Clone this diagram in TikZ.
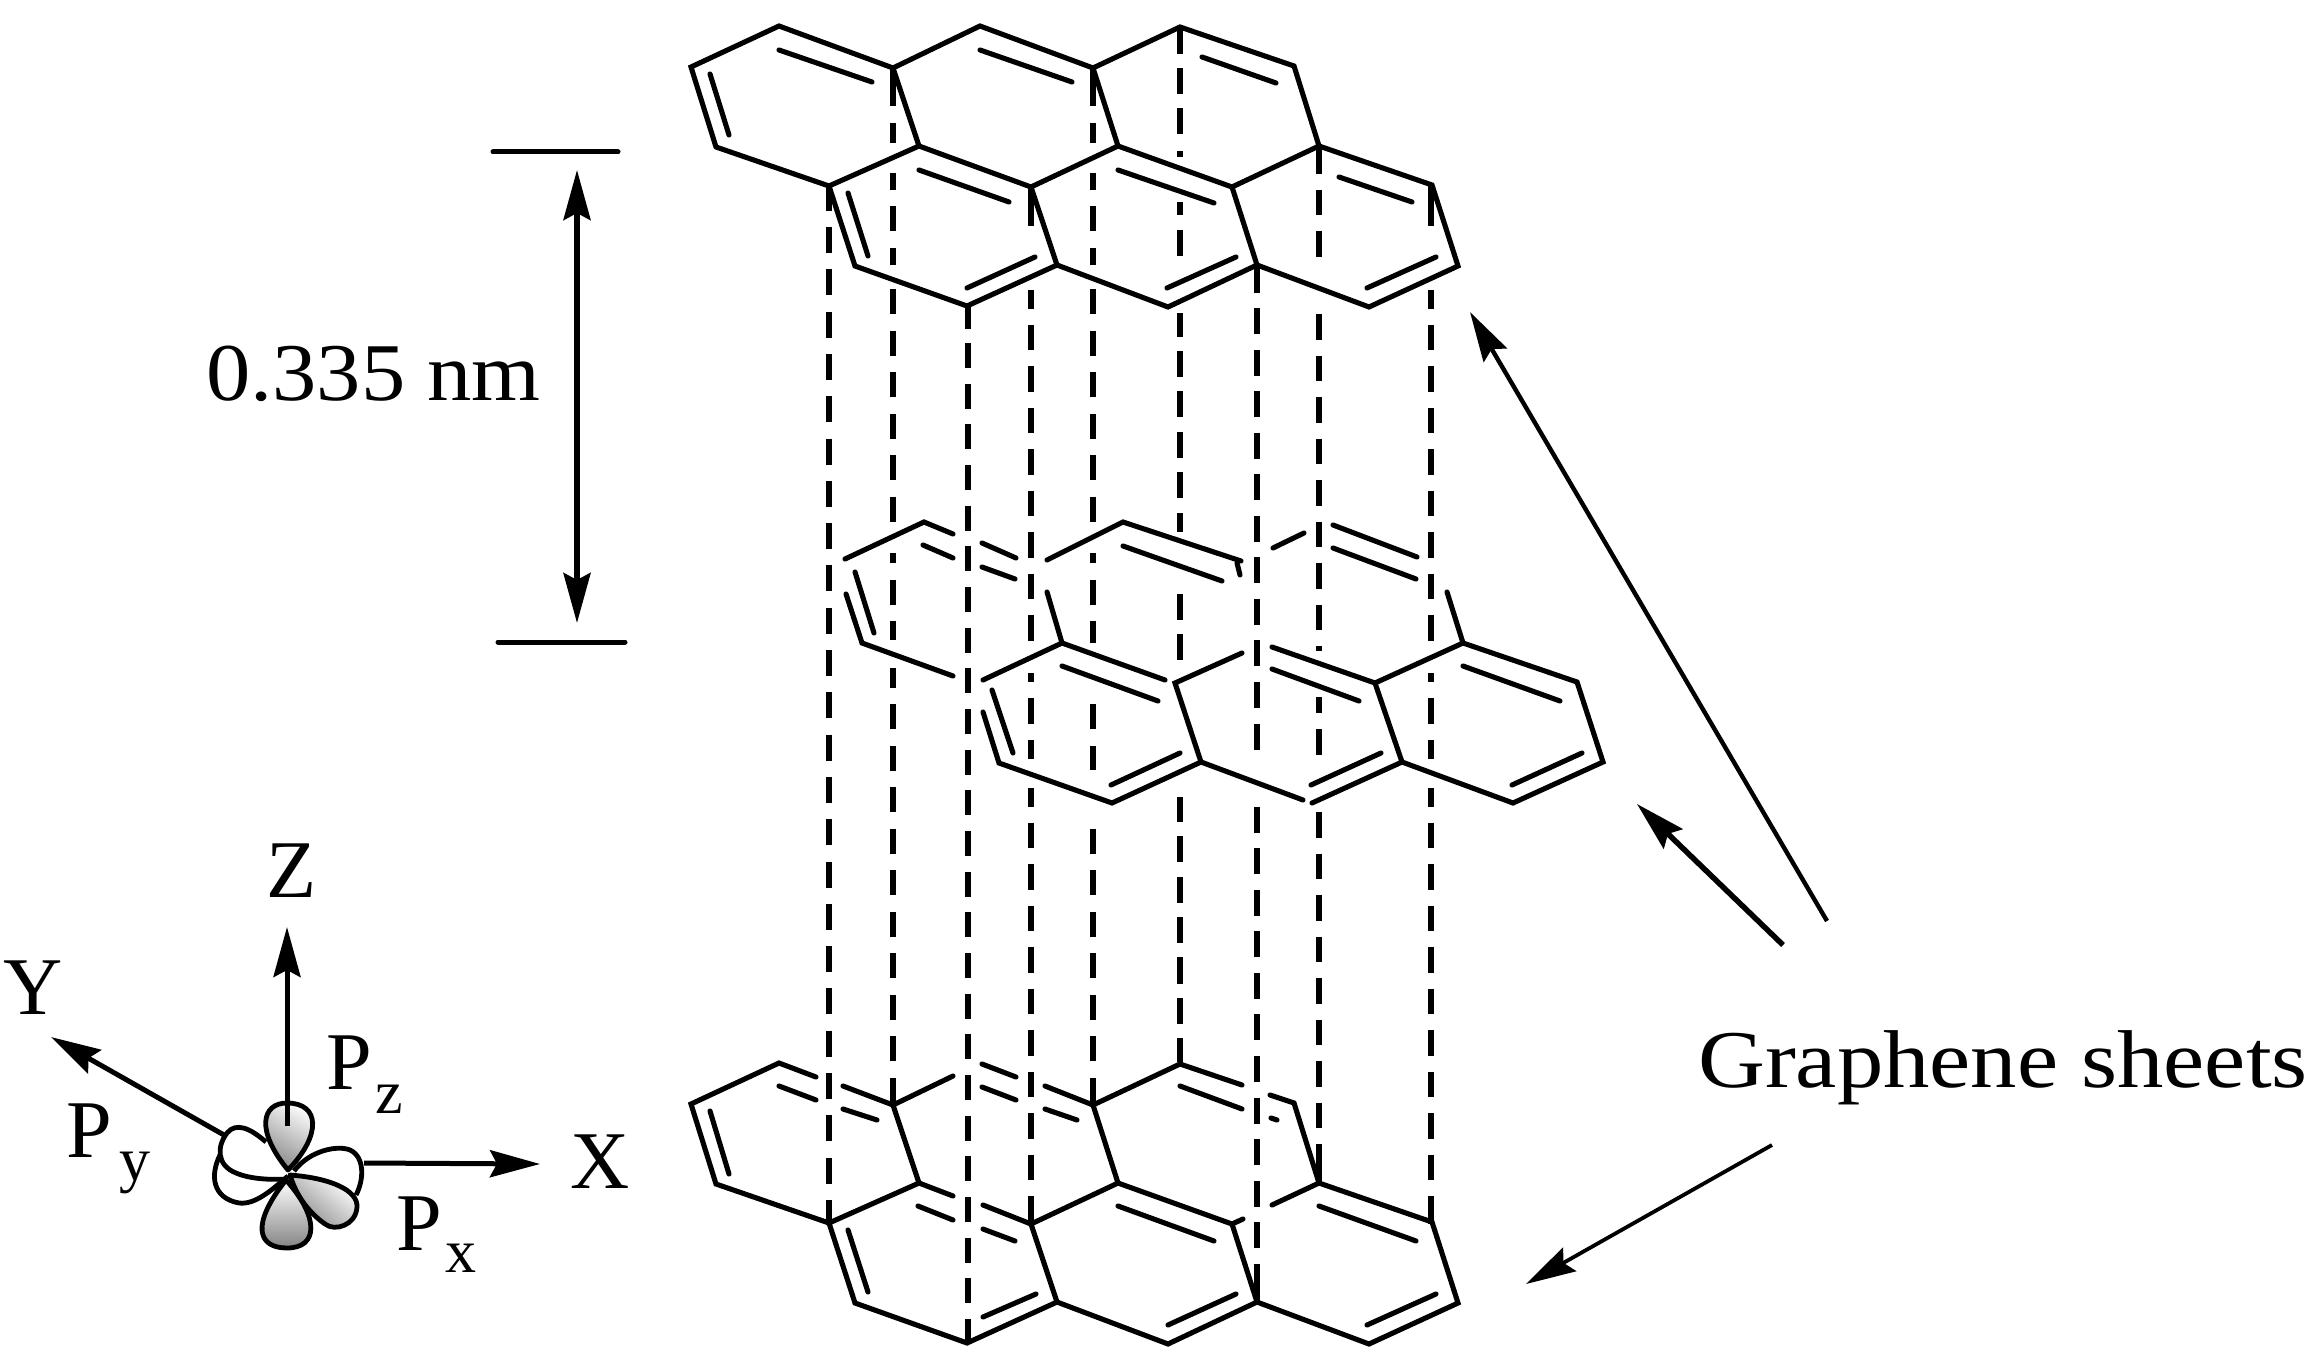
\documentclass[tikz,border=0pt]{standalone}
\usepackage{fontspec}
\setmainfont{Liberation Serif}
\newfontfamily\widefont[FakeStretch=1.13]{Liberation Serif}
\newfontfamily\numfont[FakeStretch=1.08]{Liberation Serif}
\usetikzlibrary{arrows.meta}
\tikzset{
    bond/.style={line width=5.1pt,line cap=round,line join=miter},
    dashcol/.style={line width=5.6pt},
    arrowline/.style={line width=#1,-{Stealth[length=50pt,width=27pt,inset=7pt]}},
    barline/.style={line width=5pt,line cap=round},
    biglabel/.style={font=\fontsize{82}{90}\selectfont,inner sep=0pt,anchor=base west},
    sublabel/.style={font=\fontsize{62}{68}\selectfont,inner sep=0pt,anchor=base west},
    lobe/.style={line width=4.8pt,line join=round},
    shadedlobe/.style={lobe,top color=white,middle color=white,bottom color=black!48},
}
\begin{document}
\begin{tikzpicture}[x=1pt,y=-1pt]
    \useasboundingbox (0,0) rectangle (2317,1372);
    % vertices of the outer sheets
    \foreach \n/\x/\y in {a1/691/67,a2/779/26,a3/893/68,a4/980/26,a5/1093/68,a6/1180/27,a7/1294/66,a8/716/147,
                          b1/829/186,b2/919/146,b3/1031/187,b4/1118/146,b5/1232/187,b6/1319/146,b7/1432/185,
                          c1/855/266,c2/967/306,c3/1057/265,c4/1168/307,c5/1257/265,c6/1369/307,c7/1458/266}{
        \coordinate (t\n) at (\x,\y);
        \coordinate (u\n) at (\x,\y+1037);
    }
    % vertical dashed lines
    \foreach \x/\ya/\yb/\don/\doff in {829/184.7/1224/26/16.3,893/81.5/1105/25/16.52,968/343/1344/25/15.67,
                                       1031/283.5/1224/25.5/15.98,1093/81.5/1105/25/16.52,1180/27.6/1062/26/14.43,
                                       1257/266.5/1264/26/15.55,1319/148.5/1182/25.5/15.98,1431/283.5/1224/25.5/15.98}{
        \draw[dashcol,dash pattern=on \don pt off \doff pt] (\x,\ya) -- (\x,\yb);
    }
    \foreach \x/\ya/\yb in {893/143/173,893/265/285,893/530/553,893/640/668,
                            1031/226/290,1031/641/673,1031/759/788,
                            1093/143/173,1093/265/285,1093/530/553,1093/643/700,1093/770/825,
                            1180/136/151,1180/157/202,1180/257/313,1180/532/594,1180/661/797,
                            1257/751/800,
                            1319/257/313,1319/651/697,1319/755/812,
                            1431/226/290,1431/641/673,1431/759/788}{
        \fill[white] (\x-6,\ya) rectangle (\x+6,\yb);
    }
    \foreach \x/\ya/\yb in {893/68/106,968/306/329,1031/187/226,1031/1196/1224,1093/68/106,1180/1038/1062,
                            1257/1264/1303,1319/146/174,1319/1144/1182,1431/185/226,1431/1196/1224}{
        \draw[dashcol] (\x,\ya) -- (\x,\yb);
    }
    % top sheet
    \draw[bond] (ta8) -- (ta1) -- (ta2) -- (ta3) -- (ta4) -- (ta5) -- (ta6) -- (ta7) -- (tb6) -- (tb7)
        -- (tc7) -- (tc6) -- (tc5) -- (tc4) -- (tc3) -- (tc2) -- (tc1) -- (tb1) -- (ta8);
    \draw[bond] (ta3) -- (tb2) -- (tb1);
    \draw[bond] (tb2) -- (tb3) -- (tb4) -- (tb5) -- (tb6);
    \draw[bond] (ta5) -- (tb4);
    \draw[bond] (tb3) -- (tc3);
    \draw[bond] (tb5) -- (tc5);
    \foreach \xa/\ya/\xb/\yb in {779/50/872/82,710/74/729/135,980/50/1072/82,1202/57/1276/83,919/170/1009/202,
                                 1118/170/1214/203,1339/177/1412/202,848/193/868/256,967/288/1035/257,
                                 1167/288/1236/257,1367/288/1436/257}{
        \draw[bond] (\xa,\ya) -- (\xb,\yb);
    }
    % middle sheet
    \draw[bond] (845,559) -- (924,522) -- (953,534);
    \draw[bond] (923,545) -- (953,558);
    \draw[bond] (982,543) -- (1016,558);
    \draw[bond] (982,567) -- (1015,579);
    \draw[bond] (1047,560) -- (1123,522) -- (1241,561);
    \draw[bond] (1237,563) -- (1240,575);
    \draw[bond] (1123,546) -- (1222,581);
    \draw[bond] (846,594) -- (862,643) -- (953,676);
    \draw[bond] (855,572) -- (874,633);
    \draw[bond] (1047,592) -- (1062,643);
    \draw[bond] (983,680) -- (1062,643) -- (1165,680);
    \draw[bond] (1062,666) -- (1158,701);
    \draw[bond] (1242,653) -- (1175,683) -- (1201,762);
    \draw[bond] (983,712) -- (999,763) -- (1112,803) -- (1201,762) -- (1303,800);
    \draw[bond] (992,690) -- (1013,753);
    \draw[bond] (1111,785) -- (1180,753);
    \draw[bond] (1273,548) -- (1304,533);
    \draw[bond] (1333,525) -- (1417,557);
    \draw[bond] (1333,548) -- (1416,579);
    \draw[bond] (1447,592) -- (1463,643);
    \draw[bond] (1272,647) -- (1375,683) -- (1463,643) -- (1577,682) -- (1603,762) -- (1513,803) -- (1402,762) -- (1312,803);
    \draw[bond] (1272,669) -- (1359,701);
    \draw[bond] (1375,683) -- (1402,762);
    \draw[bond] (1463,666) -- (1560,701);
    \draw[bond] (1512,785) -- (1582,753);
    \draw[bond] (1311,785) -- (1381,753);
    % bottom sheet
    \draw[bond] (816,1077) -- (ua2) -- (ua1) -- (ua8) -- (ub1) -- (ub2) -- (953,1196);
    \draw[bond] (779,1086) -- (816,1100);
    \draw[bond] (843,1086) -- (ua3) -- (953,1076);
    \draw[bond] (843,1109) -- (877,1120);
    \draw[bond] (710,1111) -- (729,1174);
    \draw[bond] (ua3) -- (ub2);
    \draw[bond] (982,1064) -- (1016,1077);
    \draw[bond] (982,1087) -- (1016,1100);
    \draw[bond] (1045,1086) -- (ua5) -- (ua6) -- (1242,1085);
    \draw[bond] (1045,1109) -- (1077,1120);
    \draw[bond] (ua5) -- (ub4);
    \draw[bond] (1180,1086) -- (1242,1109);
    \draw[bond] (1270,1095) -- (ua7) -- (ub6);
    \draw[bond] (1271,1118) -- (1277,1120);
    \draw[bond] (918,1206) -- (953,1220);
    \draw[bond] (983,1205) -- (ub3) -- (ub4) -- (ub5) -- (1243,1219);
    \draw[bond] (983,1229) -- (1015,1241);
    \draw[bond] (1118,1206) -- (1214,1241);
    \draw[bond] (ub5) -- (uc5);
    \draw[bond] (1272,1205) -- (ub6) -- (ub7) -- (uc7) -- (uc6) -- (uc5) -- (uc4) -- (uc3) -- (uc2) -- (uc1) -- (ub1);
    \draw[bond] (ub3) -- (uc3);
    \draw[bond] (1319,1206) -- (1416,1241);
    \draw[bond] (848,1230) -- (868,1292);
    \draw[bond] (983,1317) -- (1036,1294);
    \draw[bond] (1168,1325) -- (1236,1294);
    \draw[bond] (1367,1325) -- (1436,1294);
    % spacing mark
    \coordinate (spaceUp) at (577,170);
    \coordinate (spaceDown) at (577,623);
    \draw[barline] (493,152) -- (618,152);
    \draw[barline] (498,642) -- (625,642);
    \draw[line width=5.5pt,{Stealth[length=50pt,width=27pt,inset=7pt]}-{Stealth[length=50pt,width=27pt,inset=7pt]}] (spaceUp) -- (spaceDown);
    \node[biglabel] (spaceText) at (206,400) {\numfont 0.335 nm};
    % sheet arrows
    \node[biglabel] (sheetText) at (1698,1087) {\widefont Graphene sheets};
    \coordinate (tailTop) at (1827,921);
    \coordinate (headTop) at (1470,312);
    \coordinate (tailMid) at (1783,945);
    \coordinate (headMid) at (1637,804);
    \coordinate (tailLow) at (1772,1145);
    \coordinate (headLow) at (1526,1284);
    \draw[arrowline=4.4pt] (tailTop) -- (headTop);
    \draw[arrowline=5.5pt] (tailMid) -- (headMid);
    \draw[arrowline=3.8pt] (tailLow) -- (headLow);
    % orbitals
    \draw[lobe] (266,1142) .. controls (250,1128) and (236,1122) .. (227,1133)
        .. controls (217,1146) and (216,1165) .. (236,1173)
        .. controls (250,1179) and (270,1180) .. (287,1179);
    \draw[lobe] (220,1155) .. controls (210,1175) and (212,1198) .. (239,1203)
        .. controls (255,1205) and (272,1190) .. (288,1176);
    \draw[lobe] (294,1171) .. controls (310,1150) and (338,1145) .. (350,1150)
        .. controls (365,1157) and (364,1180) .. (356,1195);
    \shadedraw[shadedlobe,shading angle=-30]
        (288,1170) .. controls (255,1130) and (262,1103) .. (287,1103)
        .. controls (320,1103) and (322,1135) .. (288,1170) -- cycle;
    \shadedraw[shadedlobe,shading angle=-40]
        (290,1175) .. controls (330,1178) and (358,1190) .. (357,1207)
        .. controls (356,1225) and (335,1232) .. (325,1224)
        .. controls (308,1212) and (296,1195) .. (290,1175) -- cycle;
    \shadedraw[shadedlobe,shading angle=0]
        (286,1180) .. controls (250,1225) and (258,1248) .. (287,1248)
        .. controls (318,1248) and (320,1218) .. (286,1180) -- cycle;
    % axes
    \coordinate (zTail) at (287,1126);
    \coordinate (zHead) at (287,927);
    \coordinate (yTail) at (224,1135);
    \coordinate (yHead) at (51,1037);
    \coordinate (xTail) at (364,1163);
    \coordinate (xHead) at (540,1164);
    \draw[arrowline=5pt] (zTail) -- (zHead);
    \draw[arrowline=5pt] (yTail) -- (yHead);
    \draw[arrowline=5pt] (xTail) -- (xHead);
    \node[biglabel] (zLabel) at (266,897) {Z};
    \node[biglabel] (yLabel) at (3,1014) {Y};
    \node[biglabel] (xLabel) at (570,1188) {X};
    \node[biglabel] (pzMain) at (326,1089) {P};
    \node[sublabel] (pzSub) at (375,1113) {z};
    \node[biglabel] (pyMain) at (66,1157) {P};
    \node[sublabel] (pySub) at (119,1180) {y};
    \node[biglabel] (pxMain) at (396,1250) {P};
    \node[sublabel] (pxSub) at (445,1272) {x};
\end{tikzpicture}
\end{document}
